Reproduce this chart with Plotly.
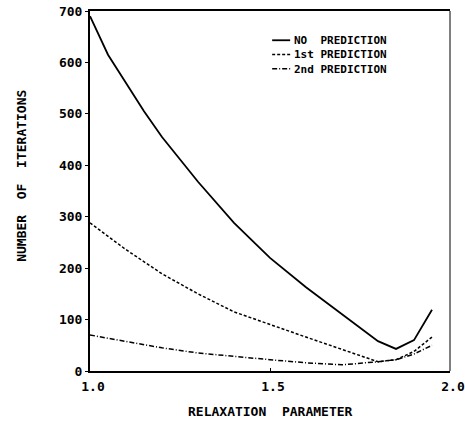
import plotly.graph_objects as go

# Relaxation parameter values
x_no = [1.0, 1.05, 1.1, 1.15, 1.2, 1.3, 1.4, 1.5, 1.6, 1.7, 1.75, 1.8, 1.85, 1.9, 1.95]
y_no = [690, 615, 560, 505, 455, 368, 288, 220, 163, 111, 84, 58, 43, 60, 119]

x_1st = [1.0, 1.1, 1.2, 1.3, 1.4, 1.5, 1.6, 1.7, 1.8, 1.85, 1.9, 1.95]
y_1st = [288, 236, 189, 150, 115, 90, 66, 42, 18, 22, 38, 66]

x_2nd = [1.0, 1.1, 1.2, 1.3, 1.4, 1.5, 1.6, 1.7, 1.8, 1.85, 1.9, 1.95]
y_2nd = [70, 57, 45, 35, 28, 22, 16, 12, 18, 22, 33, 50]

series_names = ["NO\u00a0\u00a0PREDICTION", "1st PREDICTION", "2nd PREDICTION"]
x_ticks = [1.0, 1.5, 2.0]
x_tick_labels = ["1.0", "1.5", "2.0"]
y_ticks = [0, 100, 200, 300, 400, 500, 600, 700]

FONT = "DejaVu Sans Mono"
styles = [dict(color="black", width=1.8),
          dict(color="black", width=1.5, dash="3px,2px"),
          dict(color="black", width=1.5, dash="5px,2px,1px,2px")]

fig = go.Figure()
for xs, ys, nm, st in zip([x_no, x_1st, x_2nd], [y_no, y_1st, y_2nd], series_names, styles):
    fig.add_trace(go.Scatter(x=xs, y=ys, mode="lines", name=nm, line=st, showlegend=False))

fig.update_layout(
    width=465, height=424,
    margin=dict(l=90, r=15, t=11, b=53, autoexpand=False),
    paper_bgcolor="white", plot_bgcolor="white",
    showlegend=False,
    font=dict(family=FONT, color="black"),
)
fig.update_xaxes(range=[1.0, 2.0], tickvals=x_ticks, ticktext=x_tick_labels,
                 automargin=False, ticklabelshift=3, ticklabelstandoff=2,
                 ticklabeloverflow="allow",
                 showgrid=False, zeroline=False, showline=True, linecolor="black",
                 linewidth=2, mirror=True, ticks="inside", ticklen=3,
                 tickcolor="black", tickfont=dict(family=FONT, size=13, color="black", weight="bold"))
fig.update_yaxes(range=[0, 700], tickvals=y_ticks, automargin=False,
                 ticklabeloverflow="allow",
                 showgrid=False, zeroline=False, showline=True, linecolor="black",
                 linewidth=2, mirror=False, ticks="outside", ticklen=3,
                 tickcolor="black", tickfont=dict(family=FONT, size=13, color="black", weight="bold"))

# thin right border
fig.add_shape(type="line", xref="paper", yref="paper", x0=1, x1=1, y0=0, y1=1,
              line=dict(color="black", width=1))

# custom compact legend: one text block, line samples beside each row
LEG_FS = 11
row_px = LEG_FS * 1.3
mid_y = 0.879
leg_y = [mid_y + row_px / 360, mid_y, mid_y - row_px / 360]
for st, yy in zip(styles, leg_y):
    fig.add_shape(type="line", xref="paper", yref="paper", x0=0.506, x1=0.556, y0=yy, y1=yy,
                  line=st)
fig.add_annotation(text="<br>".join(series_names), xref="paper", yref="paper",
                   x=0.562, y=mid_y, xanchor="left", yanchor="middle", align="left",
                   showarrow=False,
                   font=dict(family=FONT, size=LEG_FS, color="black", weight="bold"))

fig.add_annotation(text="RELAXATION  PARAMETER", xref="paper", yref="paper",
                   x=0.5, y=-0.087, yanchor="top", showarrow=False,
                   font=dict(family=FONT, size=13, color="black", weight="bold"))
fig.add_annotation(text="NUMBER  OF  ITERATIONS", xref="paper", yref="paper",
                   x=-0.189, y=0.542, xanchor="center", yanchor="middle", showarrow=False,
                   textangle=-90,
                   font=dict(family=FONT, size=13, color="black", weight="bold"))

fig.write_html("out.html", config={"displayModeBar": False},
               post_script="document.body.style.margin='0px';")
